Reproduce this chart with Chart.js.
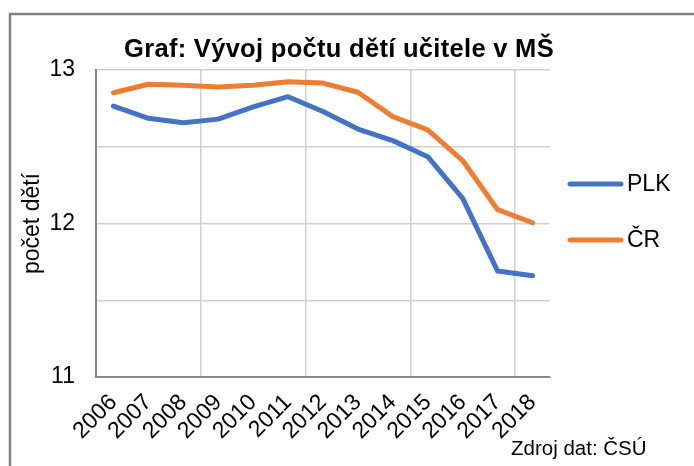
<!DOCTYPE html>
<html>
<head>
<meta charset="utf-8">
<script src="https://cdn.jsdelivr.net/npm/chart.js@4/dist/chart.umd.min.js"></script>
<style>
html,body{margin:0;padding:0;background:#fff;}
#wrap{width:694px;height:466px;position:relative;}
</style>
</head>
<body>
<div id="wrap"><canvas id="c"></canvas></div>
<script>
const years = ['2006','2007','2008','2009','2010','2011','2012','2013','2014','2015','2016','2017','2018'];
const plk = [12.765, 12.685, 12.657, 12.68, 12.76, 12.826, 12.73, 12.615, 12.54, 12.435, 12.164, 11.69, 11.66];
const cr  = [12.852, 12.907, 12.90, 12.89, 12.90, 12.924, 12.915, 12.855, 12.696, 12.61, 12.41, 12.09, 12.005];
const seriesNames = ['PLK', 'ČR'];
const yTickLabels = [11, 12, 13];
const titleText = 'Graf: Vývoj počtu dětí učitele v MŠ';
const yTitle = 'počet dětí';
const sourceText = 'Zdroj dat: ČSÚ';

const FONT = "'Liberation Sans', Arial, sans-serif";

const decor = {
  id: 'decor',
  beforeDraw(chart) {
    const ctx = chart.ctx;
    ctx.save();
    ctx.fillStyle = '#fff';
    ctx.fillRect(0, 0, chart.width, chart.height);
    ctx.strokeStyle = '#7f7f7f';
    ctx.lineWidth = 2.5;
    ctx.beginPath();
    ctx.moveTo(10, chart.height + 5);
    ctx.lineTo(10, 14);
    ctx.lineTo(chart.width + 5, 14);
    ctx.stroke();
    ctx.restore();
  },
  afterDraw(chart) {
    const ctx = chart.ctx;
    ctx.save();
    // title
    ctx.fillStyle = '#000';
    ctx.font = "bold 25.5px " + FONT;
    if ('letterSpacing' in ctx) ctx.letterSpacing = '0.3px';
    ctx.textAlign = 'center';
    ctx.textBaseline = 'alphabetic';
    ctx.fillText(titleText, 339, 57);
    if ('letterSpacing' in ctx) ctx.letterSpacing = '0px';
    // legend
    const ys = [184, 240];
    chart.data.datasets.forEach((ds, i) => {
      ctx.strokeStyle = ds.borderColor;
      ctx.lineWidth = 5;
      ctx.lineCap = 'round';
      ctx.beginPath();
      ctx.moveTo(570, ys[i]);
      ctx.lineTo(621, ys[i]);
      ctx.stroke();
      ctx.fillStyle = '#000';
      ctx.font = "23px " + FONT;
      ctx.textAlign = 'left';
      ctx.textBaseline = 'middle';
      ctx.fillText(ds.label, 627, ys[i] + 1);
    });
    // source
    ctx.fillStyle = '#000';
    ctx.font = "20.5px " + FONT;
    ctx.textAlign = 'left';
    ctx.textBaseline = 'alphabetic';
    ctx.fillText(sourceText, 511, 455);
    ctx.restore();
  }
};

new Chart(document.getElementById('c'), {
  type: 'line',
  data: {
    labels: years,
    datasets: [
      { label: seriesNames[0], data: plk, borderColor: '#4472C4', backgroundColor: '#4472C4',
        borderWidth: 5, pointRadius: 0, tension: 0, borderCapStyle: 'round', borderJoinStyle: 'round' },
      { label: seriesNames[1], data: cr, borderColor: '#ED7D31', backgroundColor: '#ED7D31',
        borderWidth: 5, pointRadius: 0, tension: 0, borderCapStyle: 'round', borderJoinStyle: 'round' }
    ]
  },
  options: {
    responsive: true,
    maintainAspectRatio: false,
    animation: false,
    layout: { padding: { top: 70, right: 144, left: 0, bottom: 0 } },
    plugins: { legend: { display: false }, title: { display: false }, tooltip: { enabled: false } },
    scales: {
      x: {
        type: 'category',
        offset: true,
        afterFit(scale) { scale.height = 89; },
        grid: {
          offset: true,
          drawTicks: false,
          lineWidth: 1.5,
          color: (c) => (c.index % 3 === 0 ? '#d0d0d0' : 'rgba(0,0,0,0)')
        },
        border: { color: '#868686', width: 2 },
        ticks: {
          autoSkip: false,
          maxRotation: 45,
          minRotation: 45,
          padding: 12,
          color: '#000',
          font: { family: FONT, size: 23 }
        }
      },
      y: {
        min: 11,
        max: 13,
        afterFit(scale) { scale.width = 96; },
        afterBuildTicks(scale) {
          const t = [];
          for (let v = 11; v <= 13.0001; v += 0.5) t.push({ value: Math.round(v * 10) / 10 });
          scale.ticks = t;
        },
        grid: { drawTicks: false, lineWidth: 1.5, color: '#d0d0d0' },
        border: { color: '#868686', width: 2 },
        ticks: {
          padding: 21,
          color: '#000',
          font: { family: FONT, size: 23 },
          callback: (v) => (yTickLabels.includes(v) ? String(v) : '')
        },
        title: {
          display: true,
          text: yTitle,
          color: '#000',
          font: { family: FONT, size: 23 },
          padding: { top: 19, bottom: 0 }
        }
      }
    }
  },
  plugins: [decor]
});
</script>
</body>
</html>
